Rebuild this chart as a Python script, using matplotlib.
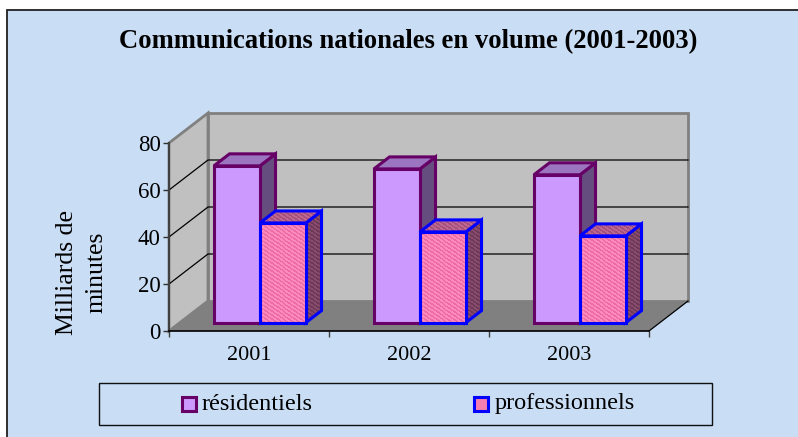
import matplotlib
matplotlib.use("Agg")
import matplotlib.pyplot as plt
import numpy as np
from matplotlib.patches import Polygon, Rectangle

plt.rcParams['font.family'] = ['Liberation Serif', 'DejaVu Serif']

years = ["2001", "2002", "2003"]
residentiels = [66.7, 65.4, 62.9]
professionnels = [42.4, 38.6, 36.9]
y_ticks = [0, 20, 40, 60, 80]

W, H = 798, 437
BG = "#c9ddf5"

fig = plt.figure(figsize=(W / 100, H / 100), dpi=100, facecolor="white")
fig_tr = fig.transFigure


def fig_rect(x0, y0, x1, y1, **kw):
    # pixel box measured from the top left of the picture
    r = Rectangle((x0 / W, 1 - y1 / H), (x1 - x0) / W, (y1 - y0) / H, transform=fig_tr, **kw)
    fig.add_artist(r)
    return r


fig_rect(7, 10, W + 2, H + 2, fc=BG, ec="#202020", lw=1.3, zorder=-1)

# front plane of the 3d box, everything else is projected from it
ax = fig.add_axes([169 / W, 1 - 331 / H, 480 / W, 188 / H])
ax.patch.set_alpha(0)
for s in ax.spines.values():
    s.set_visible(False)

DX = 39 / 160  # full depth of the box, in category units
DY = 30 / 2.35  # same in value units


def pr(x, v, d):
    return (x + d * DX, v + d * DY)


def face(pts, **kw):
    p = Polygon(pts, closed=True, clip_on=False, **kw)
    ax.add_patch(p)
    return p


def textured(pts, dark, light, zorder):
    # woven pink fill: a small tile repeated at screen resolution, clipped to the face
    xs = [p[0] for p in pts]
    ys = [p[1] for p in pts]
    nx = int((max(xs) - min(xs)) * 160) + 1
    ny = int((max(ys) - min(ys)) * 2.35) + 1
    tile = np.array([[0, 0, 1, 1, 1, 0],
                     [1, 0, 0, 1, 1, 1],
                     [1, 1, 0, 0, 0, 1],
                     [0, 1, 1, 1, 0, 0]])
    grid = np.tile(tile, (ny // 4 + 1, nx // 6 + 1))[:ny, :nx]
    c0 = np.array(matplotlib.colors.to_rgb(dark))
    c1 = np.array(matplotlib.colors.to_rgb(light))
    img = c0 + grid[..., None] * (c1 - c0)
    im = ax.imshow(img, extent=(min(xs), max(xs), min(ys), max(ys)), aspect="auto",
                   interpolation="nearest", zorder=zorder)
    im.set_clip_path(Polygon(pts, closed=True, transform=ax.transData))


# walls and floor
face([pr(0, 0, 0), pr(0, 0, 1), pr(0, 80, 1), pr(0, 80, 0)], fc="#c0c0c0", ec="#808080", lw=2, joinstyle="miter")
face([pr(0, 0, 1), pr(3, 0, 1), pr(3, 80, 1), pr(0, 80, 1)], fc="#c0c0c0", ec="#808080", lw=2, joinstyle="miter")
face([pr(0, 0, 0), pr(3, 0, 0), pr(3, 0, 1), pr(0, 0, 1)], fc="#808080", ec="none")

# gridlines run along the side wall and then the back wall
for t in y_ticks[1:-1]:
    xs, ys = zip(pr(0, t, 0), pr(0, t, 1), pr(3, t, 1))
    ax.plot(xs, ys, color="black", lw=0.9, clip_on=False, zorder=1.5)
xs, ys = zip(pr(3, 0, 0), pr(3, 0, 1))
ax.plot(xs, ys, color="black", lw=0.9, clip_on=False, zorder=1.5)

# axis lines and ticks
ax.plot([0, 0], [0, 80], color="#404040", lw=1.4, clip_on=False, zorder=2)
ax.plot([0, 3], [0, 0], color="black", lw=1.2, clip_on=False, zorder=2)
ax.set_xticks([0, 1, 2, 3])
ax.set_xticklabels([])
ax.set_yticks(y_ticks)
ax.tick_params(axis="x", length=4, width=1, color="#404040")
ax.tick_params(axis="y", length=4, width=1, color="#303030", labelsize=16.5, pad=2)
for i, y in enumerate(years):
    ax.text(i + 0.5, -10.5, y, ha="center", va="center", fontsize=16)

BAR_W = 46 / 160
D0, D1 = 0.28, 0.68


def bar3d(x0, v, colors, edge, textures=None):
    x1 = x0 + BAR_W
    f = [pr(x0, 0, D0), pr(x1, 0, D0), pr(x1, v, D0), pr(x0, v, D0)]
    t = [pr(x0, v, D0), pr(x1, v, D0), pr(x1, v, D1), pr(x0, v, D1)]
    s = [pr(x1, 0, D0), pr(x1, 0, D1), pr(x1, v, D1), pr(x1, v, D0)]
    for k, pts in enumerate((s, t, f)):
        if textures:
            textured(pts, textures[k][0], textures[k][1], 3)
        else:
            face(pts, fc=colors[k], ec="none", zorder=3)
        face(pts, fc="none", ec=edge, lw=2.2, joinstyle="miter", zorder=3)


for i in range(3):
    x_left = i + 0.5 - BAR_W
    bar3d(x_left, residentiels[i], ("#664d80", "#9c75c0", "#cc99ff"), "#660066")
    bar3d(x_left + BAR_W, professionnels[i], None, "#0000ff",
          textures=(("#6b3a58", "#8a4a6c"), ("#a0507c", "#c0668f"), ("#ee6aa6", "#fb8cbc")))

ax.set_xlim(0, 3)
ax.set_ylim(0, 80)

ax.text(-0.545, 25, "Milliards de\nminutes", rotation=90, ha="center", va="center",
        fontsize=18.5, linespacing=1.45)

fig.text(408 / W, 1 - 42 / H, "Communications nationales en volume (2001-2003)",
         ha="center", va="center", fontsize=19.2, fontweight="bold")

# legend box
fig_rect(98.5, 383, 712, 425, fc="none", ec="#101010", lw=1)
fig_rect(182, 396.5, 196, 410.5, fc="#cc99ff", ec="#660066", lw=2.2)
fig_rect(474, 396.5, 488, 410.5, fc="#f57db0", ec="#0000ff", lw=2.2)
fig.text(202 / W, 1 - 404 / H, "résidentiels", ha="left", va="center", fontsize=17.5)
fig.text(495 / W, 1 - 404 / H, "professionnels", ha="left", va="center", fontsize=17.5)

fig.savefig("out.png", dpi=100)
